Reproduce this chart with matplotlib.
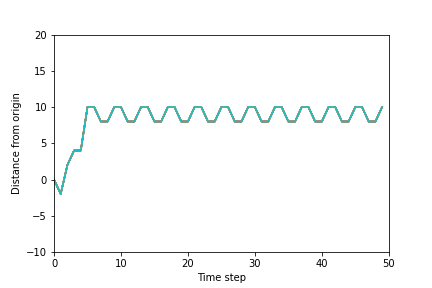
import numpy as np
import matplotlib.pyplot as plt

# distance from origin at each time step (same walk for every run)
start = [0, -2, 2, 4, 4]
cycle = [10, 10, 8, 8]
distance = start + cycle * 11 + [10]
steps = np.arange(len(distance))
n_runs = 10

fig, ax = plt.subplots(figsize=(6, 4), dpi=72)
fig.subplots_adjust(bottom=0.125)
for i in range(n_runs):
    ax.plot(steps, distance)
ax.set_xlim(0, 50)
ax.set_ylim(-10, 20)
ax.set_xlabel('Time step')
ax.set_ylabel('Distance from origin')
fig.savefig('out.png')
